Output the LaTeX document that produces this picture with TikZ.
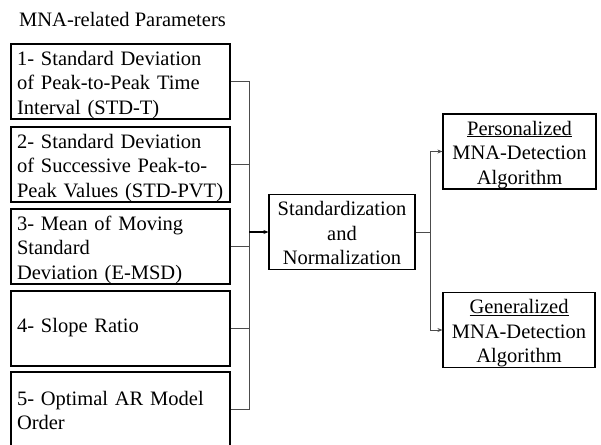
\documentclass[tikz,border=0pt]{standalone}
\usepackage{fontspec}
\setmainfont{Liberation Serif}
\usetikzlibrary{arrows.meta}
\begin{document}
\begin{tikzpicture}[x=1pt,y=-1pt,
  box/.style={draw=black,line width=1.2pt,rectangle,inner sep=0pt,font=\fontsize{20.5}{24.5}\selectfont,text height=21pt,text depth=54pt},
  lbox/.style={box,minimum width=219pt,minimum height=75pt,align=left,text width=207pt},
  rbox/.style={box,align=center,minimum height=75pt},
  conn/.style={draw=black!70,line width=0.9pt},
  arr/.style={conn,-{Stealth[length=5pt,width=4pt]}}]
\useasboundingbox (0,0) rectangle (601,444);
\clip (0,0) rectangle (601,444);
\node[anchor=base west,font=\fontsize{20.5}{24}\selectfont,inner sep=0pt] (title) at (19,27) {MNA-related Parameters};
\node[lbox] (b1) at (120.5,81.5) {1- Standard Deviation\\of Peak-to-Peak Time\\Interval (STD-T)};
\node[lbox] (b2) at (120.5,164.5) {2- Standard Deviation\\of Successive Peak-to-\\Peak Values (STD-PVT)};
\node[lbox] (b3) at (120.5,246.5) {3- Mean of Moving\\Standard\\Deviation (E-MSD)};
\node[lbox,text height=41pt,text depth=34pt] (b4) at (120.5,328.5) {4- Slope Ratio};
\node[lbox,text height=33pt,text depth=42pt] (b5) at (120.5,409.5) {5- Optimal AR Model\\Order};
\node[rbox,minimum width=146pt,text width=146pt] (std) at (342,232) {Standardization\\and\\Normalization};
\node[rbox,minimum width=153pt,text width=153pt] (pers) at (519.5,151.5) {\underline{Personalized}\\MNA-Detection\\Algorithm};
\node[rbox,minimum width=152pt,text width=152pt] (gen) at (519,330) {\underline{Generalized}\\MNA-Detection\\Algorithm};
\coordinate (bus) at (249,232);
\coordinate (split) at (430,232);
\draw[conn] (b1.east) -- (b1.east -| bus) -- (b5.east -| bus) -- (b5.east);
\draw[conn] (b2.east) -- (b2.east -| bus);
\draw[conn] (b3.east) -- (b3.east -| bus);
\draw[conn] (b4.east) -- (b4.east -| bus);
\draw[arr,draw=black,line width=1.2pt] (bus) -- (std.west);
\draw[conn] (std.east) -- (split);
\draw[conn] (pers.west -| split) -- (gen.west -| split);
\draw[arr] (pers.west -| split) -- (pers.west);
\draw[arr] (gen.west -| split) -- (gen.west);
\end{tikzpicture}
\end{document}
